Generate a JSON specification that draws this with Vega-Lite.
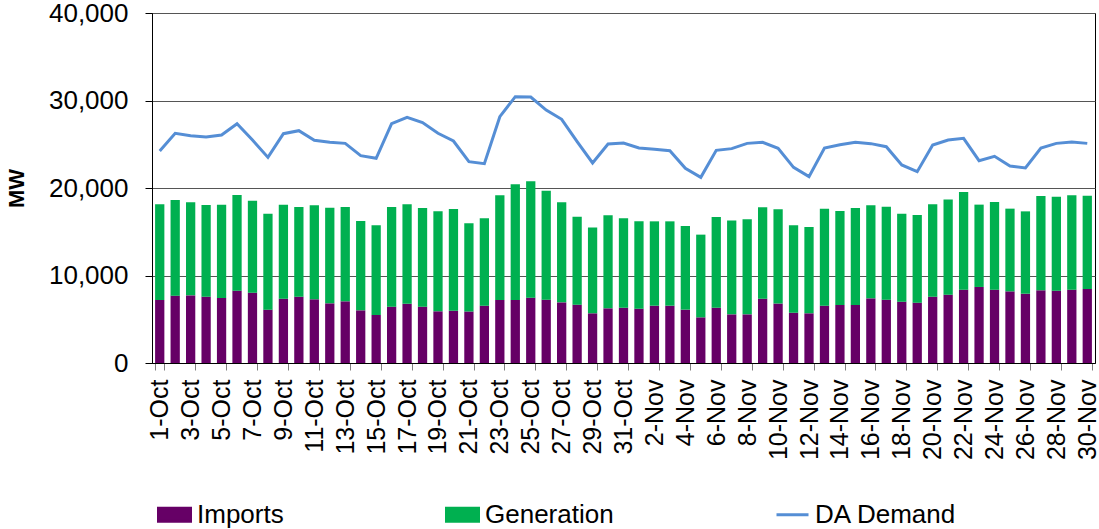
{
  "$schema": "https://vega.github.io/schema/vega-lite/v6.json",
  "width": 943,
  "height": 350,
  "autosize": {"type": "none"},
  "padding": {"left": 152, "top": 13, "right": 4, "bottom": 166},
  "config": {
    "font": "Liberation Sans",
    "view": {"stroke": "black", "strokeWidth": 1},
    "axis": {"labelColor": "black", "titleColor": "black"}
  },
  "data": {"values": [
    {"day": "1-Oct", "Imports": 7200, "Generation": 10940, "demand": 24230},
    {"day": "2-Oct", "Imports": 7700, "Generation": 10930, "demand": 26250},
    {"day": "3-Oct", "Imports": 7730, "Generation": 10630, "demand": 25980},
    {"day": "4-Oct", "Imports": 7580, "Generation": 10480, "demand": 25830},
    {"day": "5-Oct", "Imports": 7430, "Generation": 10670, "demand": 26060},
    {"day": "6-Oct", "Imports": 8270, "Generation": 10930, "demand": 27350},
    {"day": "7-Oct", "Imports": 8040, "Generation": 10510, "demand": 25490},
    {"day": "8-Oct", "Imports": 6100, "Generation": 10970, "demand": 23500},
    {"day": "9-Oct", "Imports": 7350, "Generation": 10750, "demand": 26210},
    {"day": "10-Oct", "Imports": 7580, "Generation": 10250, "demand": 26550},
    {"day": "11-Oct", "Imports": 7280, "Generation": 10740, "demand": 25450},
    {"day": "12-Oct", "Imports": 6820, "Generation": 10930, "demand": 25220},
    {"day": "13-Oct", "Imports": 7050, "Generation": 10780, "demand": 25100},
    {"day": "14-Oct", "Imports": 6020, "Generation": 10210, "demand": 23700},
    {"day": "15-Oct", "Imports": 5490, "Generation": 10240, "demand": 23390},
    {"day": "16-Oct", "Imports": 6440, "Generation": 11390, "demand": 27350},
    {"day": "17-Oct", "Imports": 6780, "Generation": 11350, "demand": 28080},
    {"day": "18-Oct", "Imports": 6440, "Generation": 11270, "demand": 27470},
    {"day": "19-Oct", "Imports": 5910, "Generation": 11420, "demand": 26250},
    {"day": "20-Oct", "Imports": 5980, "Generation": 11620, "demand": 25370},
    {"day": "21-Oct", "Imports": 5890, "Generation": 10070, "demand": 23010},
    {"day": "22-Oct", "Imports": 6550, "Generation": 9980, "demand": 22780},
    {"day": "23-Oct", "Imports": 7200, "Generation": 11960, "demand": 28150},
    {"day": "24-Oct", "Imports": 7200, "Generation": 13220, "demand": 30440},
    {"day": "25-Oct", "Imports": 7470, "Generation": 13290, "demand": 30400},
    {"day": "26-Oct", "Imports": 7240, "Generation": 12460, "demand": 28910},
    {"day": "27-Oct", "Imports": 6930, "Generation": 11430, "demand": 27850},
    {"day": "28-Oct", "Imports": 6670, "Generation": 10050, "demand": 25300},
    {"day": "29-Oct", "Imports": 5680, "Generation": 9820, "demand": 22860},
    {"day": "30-Oct", "Imports": 6250, "Generation": 10630, "demand": 25030},
    {"day": "31-Oct", "Imports": 6320, "Generation": 10210, "demand": 25140},
    {"day": "1-Nov", "Imports": 6210, "Generation": 9980, "demand": 24570},
    {"day": "2-Nov", "Imports": 6550, "Generation": 9640, "demand": 24420},
    {"day": "3-Nov", "Imports": 6550, "Generation": 9640, "demand": 24270},
    {"day": "4-Nov", "Imports": 6100, "Generation": 9560, "demand": 22250},
    {"day": "5-Nov", "Imports": 5220, "Generation": 9450, "demand": 21220},
    {"day": "6-Nov", "Imports": 6320, "Generation": 10370, "demand": 24300},
    {"day": "7-Nov", "Imports": 5560, "Generation": 10740, "demand": 24500},
    {"day": "8-Nov", "Imports": 5560, "Generation": 10860, "demand": 25100},
    {"day": "9-Nov", "Imports": 7350, "Generation": 10440, "demand": 25220},
    {"day": "10-Nov", "Imports": 6800, "Generation": 10760, "demand": 24530},
    {"day": "11-Nov", "Imports": 5750, "Generation": 9980, "demand": 22360},
    {"day": "12-Nov", "Imports": 5680, "Generation": 9860, "demand": 21300},
    {"day": "13-Nov", "Imports": 6550, "Generation": 11090, "demand": 24570},
    {"day": "14-Nov", "Imports": 6630, "Generation": 10740, "demand": 24950},
    {"day": "15-Nov", "Imports": 6630, "Generation": 11080, "demand": 25220},
    {"day": "16-Nov", "Imports": 7390, "Generation": 10630, "demand": 25070},
    {"day": "17-Nov", "Imports": 7240, "Generation": 10630, "demand": 24720},
    {"day": "18-Nov", "Imports": 7010, "Generation": 10060, "demand": 22630},
    {"day": "19-Nov", "Imports": 6900, "Generation": 10010, "demand": 21870},
    {"day": "20-Nov", "Imports": 7580, "Generation": 10550, "demand": 24910},
    {"day": "21-Nov", "Imports": 7810, "Generation": 10890, "demand": 25490},
    {"day": "22-Nov", "Imports": 8380, "Generation": 11160, "demand": 25680},
    {"day": "23-Nov", "Imports": 8690, "Generation": 9410, "demand": 23120},
    {"day": "24-Nov", "Imports": 8380, "Generation": 10020, "demand": 23620},
    {"day": "25-Nov", "Imports": 8190, "Generation": 9450, "demand": 22510},
    {"day": "26-Nov", "Imports": 7920, "Generation": 9410, "demand": 22290},
    {"day": "27-Nov", "Imports": 8310, "Generation": 10780, "demand": 24570},
    {"day": "28-Nov", "Imports": 8270, "Generation": 10740, "demand": 25100},
    {"day": "29-Nov", "Imports": 8380, "Generation": 10780, "demand": 25260},
    {"day": "30-Nov", "Imports": 8460, "Generation": 10660, "demand": 25100}
  ]},
  "layer": [
    {
      "transform": [{"fold": ["Imports", "Generation"], "as": ["series", "mw"]}],
      "mark": {"type": "bar"},
      "encoding": {
        "x": {
          "field": "day", "type": "ordinal", "sort": null,
          "scale": {"paddingInner": 0.4, "paddingOuter": 0.2},
          "axis": {
            "title": null,
            "values": ["1-Oct","3-Oct","5-Oct","7-Oct","9-Oct","11-Oct","13-Oct","15-Oct","17-Oct","19-Oct","21-Oct","23-Oct","25-Oct","27-Oct","29-Oct","31-Oct","2-Nov","4-Nov","6-Nov","8-Nov","10-Nov","12-Nov","14-Nov","16-Nov","18-Nov","20-Nov","22-Nov","24-Nov","26-Nov","28-Nov","30-Nov"],
            "labelAngle": -90,
            "labelFontSize": 25,
            "labelPadding": 9,
            "labelOverlap": false,
            "tickBand": "extent",
            "tickSize": 7,
            "tickColor": "#808080",
            "domainColor": "black",
            "grid": false
          }
        },
        "y": {
          "field": "mw", "type": "quantitative", "stack": "zero",
          "scale": {"domain": [0, 40000], "nice": false},
          "axis": {
            "title": "MW",
            "titleFontSize": 22,
            "titleFontWeight": "bold",
            "titlePadding": 20,
            "values": [0, 10000, 20000, 30000, 40000],
            "format": ",.0f",
            "labelFontSize": 26,
            "labelPadding": 17,
            "tickSize": 7,
            "tickColor": "black",
            "domainColor": "black",
            "grid": true,
            "gridColor": "#555555",
            "gridOpacity": 1
          }
        },
        "color": {
          "field": "series", "type": "nominal",
          "sort": ["Imports", "Generation", "DA Demand"],
          "scale": {"domain": ["Imports", "Generation", "DA Demand"], "range": ["#660066", "#00B050", "#558ED5"]},
          "legend": {
            "orient": "none",
            "legendX": 5,
            "legendY": 484,
            "direction": "horizontal",
            "columns": 3,
            "columnPadding": 156,
            "padding": 0,
            "title": null,
            "labelFontSize": 26,
            "labelColor": "black",
            "labelOffset": 5,
            "symbolSize": 1024,
            "encode": {
              "symbols": {
                "update": {
                  "shape": {"signal": "datum.value === 'DA Demand' ? 'M-1,0H1' : 'M-1,-0.41H1V0.41H-1Z'"},
                  "fill": {"signal": "datum.value === 'DA Demand' ? 'transparent' : (datum.value === 'Imports' ? '#660066' : '#00B050')"},
                  "stroke": {"signal": "datum.value === 'DA Demand' ? '#558ED5' : 'transparent'"},
                  "strokeWidth": {"value": 3},
                  "opacity": {"value": 1},
                  "fillOpacity": {"value": 1}
                }
              }
            }
          }
        },
        "order": {"field": "series", "sort": "descending"}
      }
    },
    {
      "mark": {"type": "line", "strokeWidth": 3},
      "encoding": {
        "x": {"field": "day", "type": "ordinal", "sort": null},
        "y": {"field": "demand", "type": "quantitative"},
        "color": {"datum": "DA Demand"}
      }
    }
  ]
}
